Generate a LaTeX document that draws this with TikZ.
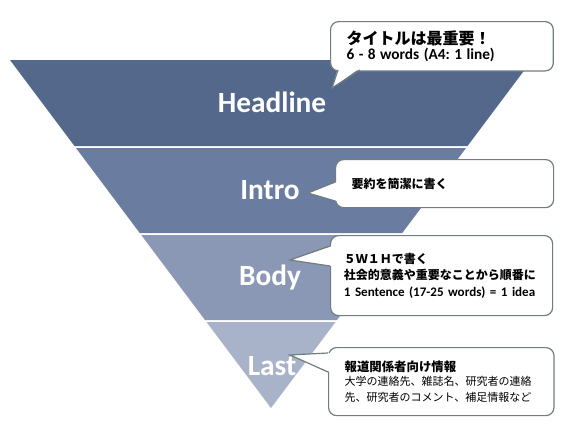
\documentclass[tikz,border=0pt]{standalone}
\usepackage{fontspec}
\setmainfont{Carlito}
\newfontfamily\jpfont{Noto Sans CJK JP}
\usetikzlibrary{calc}
\frenchspacing
\definecolor{bandA}{RGB}{84,104,140}
\definecolor{bandB}{RGB}{106,124,160}
\definecolor{bandC}{RGB}{139,152,181}
\definecolor{bandD}{RGB}{168,178,200}
\definecolor{cline}{RGB}{112,126,128}

\begin{document}
\begin{tikzpicture}[
  x=0.75pt, y=-0.75pt,
  lbl/.style={font=\fontsize{22}{26}\selectfont\bfseries, text=white},
  callbox/.style={rectangle, rounded corners=6pt, draw=cline, fill=white,
                  line width=0.9pt, anchor=north west, align=left,
                  inner xsep=12pt, inner ysep=2pt},
  ptrline/.style={draw=cline, line width=0.9pt, line join=miter}
]
  \useasboundingbox (0,0) rectangle (569,429);

  % inverted pyramid
  \fill[bandA] (10,60) -- (532,60) -- (467.5,146) -- (74.5,146) -- cycle;
  \fill[bandB] (76,148) -- (466,148) -- (402.25,233) -- (139.75,233) -- cycle;
  \fill[bandC] (141.25,235) -- (400.75,235) -- (337,320) -- (205,320) -- cycle;
  \fill[bandD] (206.5,322) -- (335.5,322) -- (271,408) -- cycle;

  \node[lbl] (head) at (272,102) {Headline};
  \node[lbl] (intro) at (270,190) {Intro};
  \node[lbl] (body) at (270,278) {Body};
  \node[lbl] (last) at (272,366) {Last};

  % callouts
  \node[callbox, minimum width=167pt, minimum height=37pt, text width=143pt]
    (cHead) at (330,21)
    {{\jpfont\bfseries\fontsize{12}{15}\selectfont タイトルは最重要！}\\[-1pt]
     {\bfseries\fontsize{11.5}{14}\selectfont 6 - 8 words (A4: 1 line)}};
  \node[callbox, minimum width=163.5pt, minimum height=36pt, text width=139.5pt]
    (cIntro) at (335,159)
    {\jpfont\bfseries\fontsize{9}{11}\selectfont 要約を簡潔に書く};
  \node[callbox, inner xsep=10pt, minimum width=166.5pt, minimum height=60pt, text width=146.5pt]
    (cBody) at (330,235)
    {{\jpfont\bfseries\fontsize{9}{10.5}\selectfont ５Ｗ１Ｈで書く\\社会的意義や重要なことから順番に}\\[1pt]
     \mbox{\bfseries\fontsize{9.8}{12}\selectfont 1 Sentence (17-25 words) = 1 idea}};
  \node[callbox, minimum width=169pt, minimum height=51pt, text width=145pt]
    (cLast) at (328,347)
    {{\jpfont\bfseries\fontsize{9.3}{10.5}\selectfont 報道関係者向け情報}\\
     {\jpfont\fontsize{8.25}{10.5}\selectfont 大学の連絡先、雑誌名、研究者の連絡\\先、研究者のコメント、補足情報など}};

  % pointers
  \coordinate (tHead) at (332,88);
  \coordinate (aHead) at (338,70);
  \coordinate (bHead) at (360,70);
  \fill[white] ($(aHead)+(0,-2)$) -- (tHead) -- ($(bHead)+(0,-2)$) -- cycle;
  \draw[ptrline] (aHead) -- (tHead) -- (bHead);

  \coordinate (tIntro) at (308,193);
  \coordinate (aIntro) at (335,182);
  \coordinate (bIntro) at (335,201);
  \fill[white] ($(aIntro)+(2,0)$) -- (tIntro) -- ($(bIntro)+(2,0)$) -- cycle;
  \draw[ptrline] (aIntro) -- (tIntro) -- (bIntro);

  \coordinate (tBody) at (290,260);
  \coordinate (aBody) at (330,246);
  \coordinate (bBody) at (330,266);
  \fill[white] ($(aBody)+(2,0)$) -- (tBody) -- ($(bBody)+(2,0)$) -- cycle;
  \draw[ptrline] (aBody) -- (tBody) -- (bBody);

  \coordinate (tLast) at (290,355);
  \coordinate (aLast) at (328,353);
  \coordinate (bLast) at (328,372);
  \fill[white] ($(aLast)+(2,0)$) -- (tLast) -- ($(bLast)+(2,0)$) -- cycle;
  \draw[ptrline] (aLast) -- (tLast) -- (bLast);
\end{tikzpicture}
\end{document}
